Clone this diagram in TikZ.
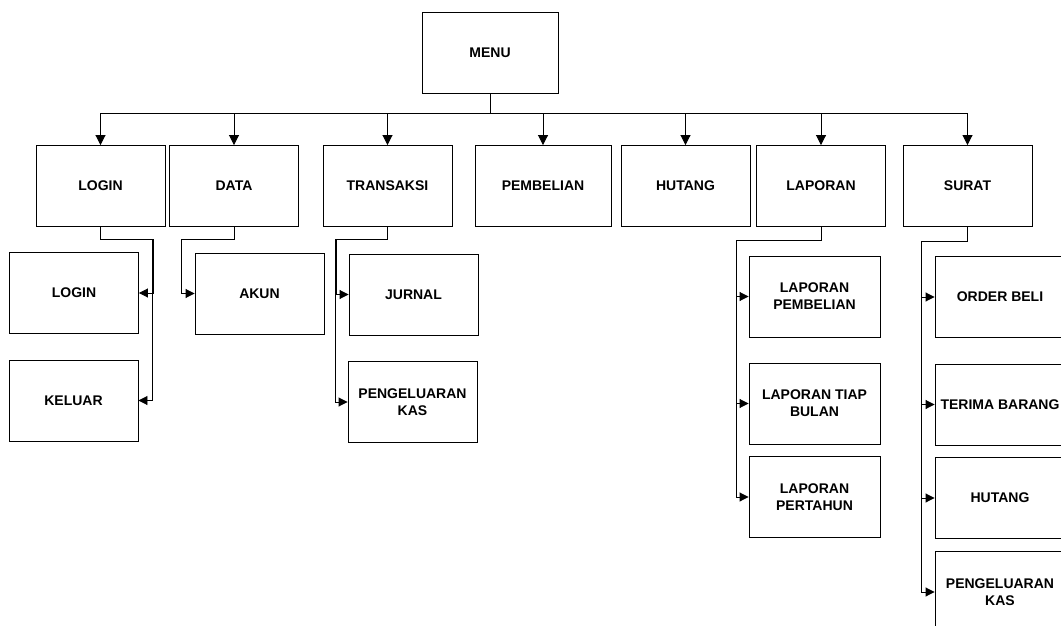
\documentclass[tikz,border=0pt]{standalone}
\usepackage{fontspec}
\setmainfont{Liberation Sans}
\usetikzlibrary{arrows.meta}
\begin{document}
\begin{tikzpicture}[x=1pt,y=-1pt,>={Triangle[length=10pt,width=10pt]},
 every node/.style={align=center,font=\bfseries\fontsize{14}{17}\selectfont},
 menubox/.style={draw,line width=0.9pt,minimum width=129pt,minimum height=81pt,inner sep=2pt},
 link/.style={->,line width=0.9pt},
 sublink/.style={-{Triangle[length=9pt,width=9pt]},line width=0.9pt}]
\useasboundingbox (0,0) rectangle (1061,626);
\node[menubox,minimum width=136pt] (menu) at (490,52.5) {MENU};
\node[menubox] (login) at (100.5,186) {LOGIN};
\node[menubox] (data) at (234,186) {DATA};
\node[menubox] (transaksi) at (387.5,186) {TRANSAKSI};
\node[menubox,minimum width=136pt] (pembelian) at (543,186) {PEMBELIAN};
\node[menubox] (hutang) at (685.5,186) {HUTANG};
\node[menubox] (laporan) at (821,186) {LAPORAN};
\node[menubox] (surat) at (967.5,186) {SURAT};
\node[menubox] (loginsub) at (74,293) {LOGIN};
\node[menubox] (keluar) at (73.5,400.5) {KELUAR};
\node[menubox] (akun) at (259.5,293.5) {AKUN};
\node[menubox] (jurnal) at (413.5,294.5) {JURNAL};
\node[menubox] (kaskeluar) at (412.5,402) {PENGELUARAN\\KAS};
\node[menubox,minimum width=131pt] (lapbeli) at (814.5,296.5) {LAPORAN\\PEMBELIAN};
\node[menubox,minimum width=131pt] (lapbulan) at (814.5,403.5) {LAPORAN TIAP\\BULAN};
\node[menubox,minimum width=131pt] (laptahun) at (814.5,497) {LAPORAN\\PERTAHUN};
\node[menubox,minimum width=130pt] (orderbeli) at (1000,297) {ORDER BELI};
\node[menubox,minimum width=130pt] (terima) at (1000,404.5) {TERIMA BARANG};
\node[menubox,minimum width=130pt] (hutangsurat) at (1000,498) {HUTANG};
\node[menubox,minimum width=130pt] (kassurat) at (1000,592) {PENGELUARAN\\KAS};
\foreach \n in {login,data,transaksi,pembelian,hutang,laporan,surat}
  \draw[link] (menu.south) -- ++(0,20) -| (\n.north);
\foreach \c in {loginsub,keluar}
  \draw[sublink] (login.south) -- ++(0,12) -| ([xshift=14pt]\c.east) -- (\c.east);
\draw[sublink] (data.south) -- ++(0,12) -| ([xshift=-13pt]akun.west) -- (akun.west);
\foreach \c in {jurnal,kaskeluar}
  \draw[sublink] (transaksi.south) -- ++(0,12) -| ([xshift=-12pt]\c.west) -- (\c.west);
\foreach \c in {lapbeli,lapbulan,laptahun}
  \draw[sublink] (laporan.south) -- ++(0,13) -| ([xshift=-12pt]\c.west) -- (\c.west);
\foreach \c in {orderbeli,terima,hutangsurat,kassurat}
  \draw[sublink] (surat.south) -- ++(0,14) -| ([xshift=-13pt]\c.west) -- (\c.west);
\end{tikzpicture}
\end{document}
